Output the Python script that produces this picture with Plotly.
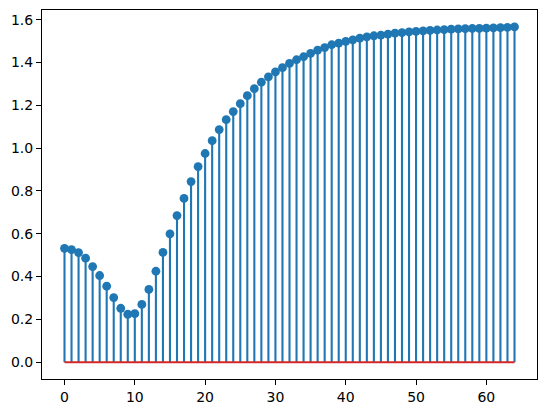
import plotly.graph_objects as go

x_vals = list(range(65))
y_vals = [0.532, 0.526, 0.512, 0.486, 0.447, 0.405, 0.355, 0.302, 0.252, 0.224,
          0.227, 0.270, 0.340, 0.425, 0.513, 0.600, 0.685, 0.765, 0.844, 0.914,
          0.975, 1.035, 1.087, 1.133, 1.171, 1.208, 1.245, 1.278, 1.308, 1.333,
          1.356, 1.376, 1.396, 1.413, 1.427, 1.443, 1.458, 1.470, 1.483, 1.491,
          1.499, 1.506, 1.514, 1.520, 1.525, 1.528, 1.533, 1.537, 1.540, 1.543,
          1.546, 1.548, 1.550, 1.552, 1.554, 1.556, 1.557, 1.558, 1.559, 1.560,
          1.561, 1.562, 1.563, 1.564, 1.567]
x_ticks = [0, 10, 20, 30, 40, 50, 60]
y_ticks = [0.0, 0.2, 0.4, 0.6, 0.8, 1.0, 1.2, 1.4, 1.6]

blue = "#1f77b4"
red = "#d62728"

sx, sy = [], []
for xv, yv in zip(x_vals, y_vals):
    sx += [xv, xv, None]
    sy += [0, yv, None]

fig = go.Figure()
fig.add_trace(go.Scatter(x=sx, y=sy, mode="lines",
                         line=dict(color=blue, width=2.1), hoverinfo="skip",
                         showlegend=False))
fig.add_trace(go.Scatter(x=[x_vals[0], x_vals[-1]], y=[0, 0], mode="lines",
                         line=dict(color=red, width=2.1), showlegend=False))
fig.add_trace(go.Scatter(x=x_vals, y=y_vals, mode="markers",
                         marker=dict(color=blue, size=8.8, line=dict(width=0)),
                         showlegend=False))

axis_common = dict(showgrid=False, zeroline=False, showline=True, linecolor="black",
                   linewidth=1.1, mirror=True, ticks="outside", ticklen=5,
                   tickwidth=1.1, tickcolor="black", automargin=False,
                   tickfont=dict(family="DejaVu Sans", size=14, color="black"))
fig.update_xaxes(range=[-3.2, 67.2], tickvals=x_ticks,
                 ticktext=[str(t) for t in x_ticks], **axis_common)
fig.update_yaxes(range=[-0.0784, 1.6454], tickvals=y_ticks,
                 ticktext=[f"{t:.1f}" for t in y_ticks], **axis_common)
fig.update_layout(width=547, height=413, plot_bgcolor="white", paper_bgcolor="white",
                  margin=dict(l=42, r=10, t=10, b=34), showlegend=False)
fig.write_html("out.html", config={"displayModeBar": False},
               post_script="document.body.style.margin='0';")
